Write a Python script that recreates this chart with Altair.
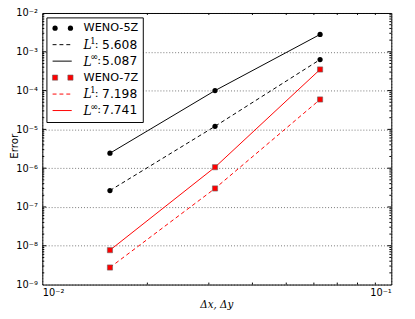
import altair as alt
import pandas as pd

# ---- data ----
dx = [1/64, 1/32, 1/16]
weno5_l1 = [2.65e-7, 1.2e-5, 6.3e-4]
weno5_linf = [2.43e-6, 1.0e-4, 2.8e-3]
weno7_l1 = [2.75e-9, 3.0e-7, 5.9e-5]
weno7_linf = [7.7e-9, 1.06e-6, 3.5e-4]

y_major = [1e-9, 1e-8, 1e-7, 1e-6, 1e-5, 1e-4, 1e-3, 1e-2]
x_major = [1e-2, 1e-1]
y_minor = [m * 10.0 ** k for k in range(-9, -2) for m in range(2, 10)]
x_minor = [m * 1e-2 for m in range(2, 10)]

legend_labels = ["WENO-5Z", "5.608", "5.087", "WENO-7Z", "7.198", "7.741"]

W, H = 356, 277
RED = "#ff0000"
MS = 28

rows = []
for name, vals in [("5Z_L1", weno5_l1), ("5Z_Linf", weno5_linf),
                   ("7Z_L1", weno7_l1), ("7Z_Linf", weno7_linf)]:
    for x, v in zip(dx, vals):
        rows.append({"dx": x, "err": v, "series": name})
df = pd.DataFrame(rows)

xs = alt.Scale(type="log", domain=[1e-2, 1e-1], nice=False)
ys = alt.Scale(type="log", domain=[1e-9, 1e-2], nice=False)

sup = "['⁰','¹','²','³','⁴','⁵','⁶','⁷','⁸','⁹'][round(-log(datum.value)/LN10)]"
lab = "'10⁻' + " + sup

xaxis = alt.Axis(values=x_major, labelExpr=lab, ticks=False, domain=False,
                 grid=True, gridDash=[1, 2], gridColor="#000", gridOpacity=0.55,
                 labelFont="DejaVu Sans", labelFontSize=10, labelColor="#000",
                 labelPadding=3, title=None)
yaxis = alt.Axis(values=y_major, labelExpr=lab, ticks=False, domain=False,
                 grid=True, gridDash=[1, 2], gridColor="#000", gridOpacity=0.55,
                 labelFont="DejaVu Sans", labelFontSize=10, labelColor="#000",
                 labelPadding=5, title=None)

base = alt.Chart(df)
layers = []

def X(f):
    return alt.X(f, scale=xs, axis=xaxis)

def Y(f):
    return alt.Y(f, scale=ys, axis=yaxis)

def series_line(name, color, dashed):
    kw = dict(color=color, strokeWidth=1)
    if dashed:
        kw["strokeDash"] = [4, 3]
    return base.transform_filter(alt.datum.series == name).mark_line(**kw).encode(
        x=X("dx:Q"), y=Y("err:Q"), order="dx:Q")

def series_pts(name, is_sq):
    if is_sq:
        m = base.transform_filter(alt.datum.series == name).mark_point(
            shape="square", filled=True, color=RED, size=MS, stroke="#666",
            strokeWidth=0.6, opacity=1)
    else:
        m = base.transform_filter(alt.datum.series == name).mark_point(
            shape="circle", filled=True, color="#000", size=MS, opacity=1)
    return m.encode(x=X("dx:Q"), y=Y("err:Q"))

layers += [series_line("5Z_L1", "#000", True), series_line("5Z_Linf", "#000", False),
           series_line("7Z_L1", RED, True), series_line("7Z_Linf", RED, False)]
layers += [series_pts("5Z_L1", False), series_pts("5Z_Linf", False),
           series_pts("7Z_L1", True), series_pts("7Z_Linf", True)]

# inside ticks
def yticks(vals, length):
    d = alt.Data(values=[{"err": v} for v in vals])
    out = []
    for x0, x1 in [(0, length), (W - length, W)]:
        out.append(alt.Chart(d).mark_rule(color="#000", strokeWidth=1).encode(
            y=Y("err:Q"), x=alt.value(x0), x2=alt.value(x1)))
    return out

def xticks(vals, length):
    d = alt.Data(values=[{"dx": v} for v in vals])
    out = []
    for y0, y1 in [(H - length, H), (0, length)]:
        out.append(alt.Chart(d).mark_rule(color="#000", strokeWidth=1).encode(
            x=X("dx:Q"), y=alt.value(y0), y2=alt.value(y1)))
    return out

layers += yticks(y_major[1:-1], 4) + yticks(y_minor, 2) + xticks(x_minor, 2)

one = alt.Data(values=[{"a": 1}])

def txt(s, x, y, **kw):
    return alt.Chart(one).mark_text(**kw).encode(
        x=alt.value(x), y=alt.value(y), text=alt.value(s))

# legend box
layers.append(alt.Chart(one).mark_rect(fill="#fff", stroke="#000", strokeWidth=1).encode(
    x=alt.value(4.7), x2=alt.value(103), y=alt.value(5), y2=alt.value(111.7)))

row_y = [15.5 + 16.8 * i for i in range(6)]
TX = 42
sans = dict(font="DejaVu Sans", fontSize=11.5, align="left", baseline="middle", color="#000")
num = dict(font="DejaVu Sans", fontSize=12.5, align="left", baseline="middle", color="#000")
for i, ry in enumerate(row_y):
    color = "#000" if i < 3 else RED
    kind = i % 3
    if kind == 0:
        for mx in (13, 28.7):
            if i == 0:
                layers.append(alt.Chart(one).mark_point(shape="circle", filled=True,
                    color="#000", size=MS, opacity=1).encode(x=alt.value(mx), y=alt.value(ry)))
            else:
                layers.append(alt.Chart(one).mark_point(shape="square", filled=True,
                    color=RED, size=MS, stroke="#666", strokeWidth=0.6, opacity=1).encode(
                    x=alt.value(mx), y=alt.value(ry)))
        layers.append(txt(legend_labels[i], TX, ry, **sans))
    else:
        kw = dict(color=color, strokeWidth=1)
        if kind == 1:
            kw["strokeDash"] = [4, 3]
        layers.append(alt.Chart(one).mark_rule(**kw).encode(
            x=alt.value(10.5), x2=alt.value(30), y=alt.value(ry)))
        layers.append(txt("L", TX, ry + 0.5, font="DejaVu Serif", fontStyle="italic",
                          fontSize=12.5, align="left", baseline="middle", color="#000"))
        if kind == 1:
            layers.append(txt("1", TX + 7, ry - 4, font="DejaVu Serif", fontSize=8.5,
                              align="left", baseline="middle", color="#000"))
            colon_x = TX + 11.5
        else:
            layers.append(txt("∞", TX + 7, ry - 4, font="DejaVu Sans", fontSize=10,
                              align="left", baseline="middle", color="#000"))
            colon_x = TX + 14
        layers.append(txt(":", colon_x, ry, **sans))
        layers.append(txt(legend_labels[i], TX + 19, ry, **num))

# axis titles
layers.append(txt("Error", -27.5, 136, font="DejaVu Sans", fontSize=10.5, angle=270,
                  align="center", baseline="middle", color="#000"))
layers.append(txt("Δx, Δy", 178, 298, font="DejaVu Serif", fontStyle="italic",
                  fontSize=10.5, align="center", baseline="middle", color="#000"))

chart = alt.layer(*layers).properties(
    width=W, height=H,
    autosize=alt.AutoSizeParams(type="none"),
    padding={"left": 35, "top": 2, "right": 16, "bottom": 30},
).configure_view(stroke="#000", strokeWidth=1)

chart.save("out.html", embed_options={"renderer": "svg", "actions": False})
